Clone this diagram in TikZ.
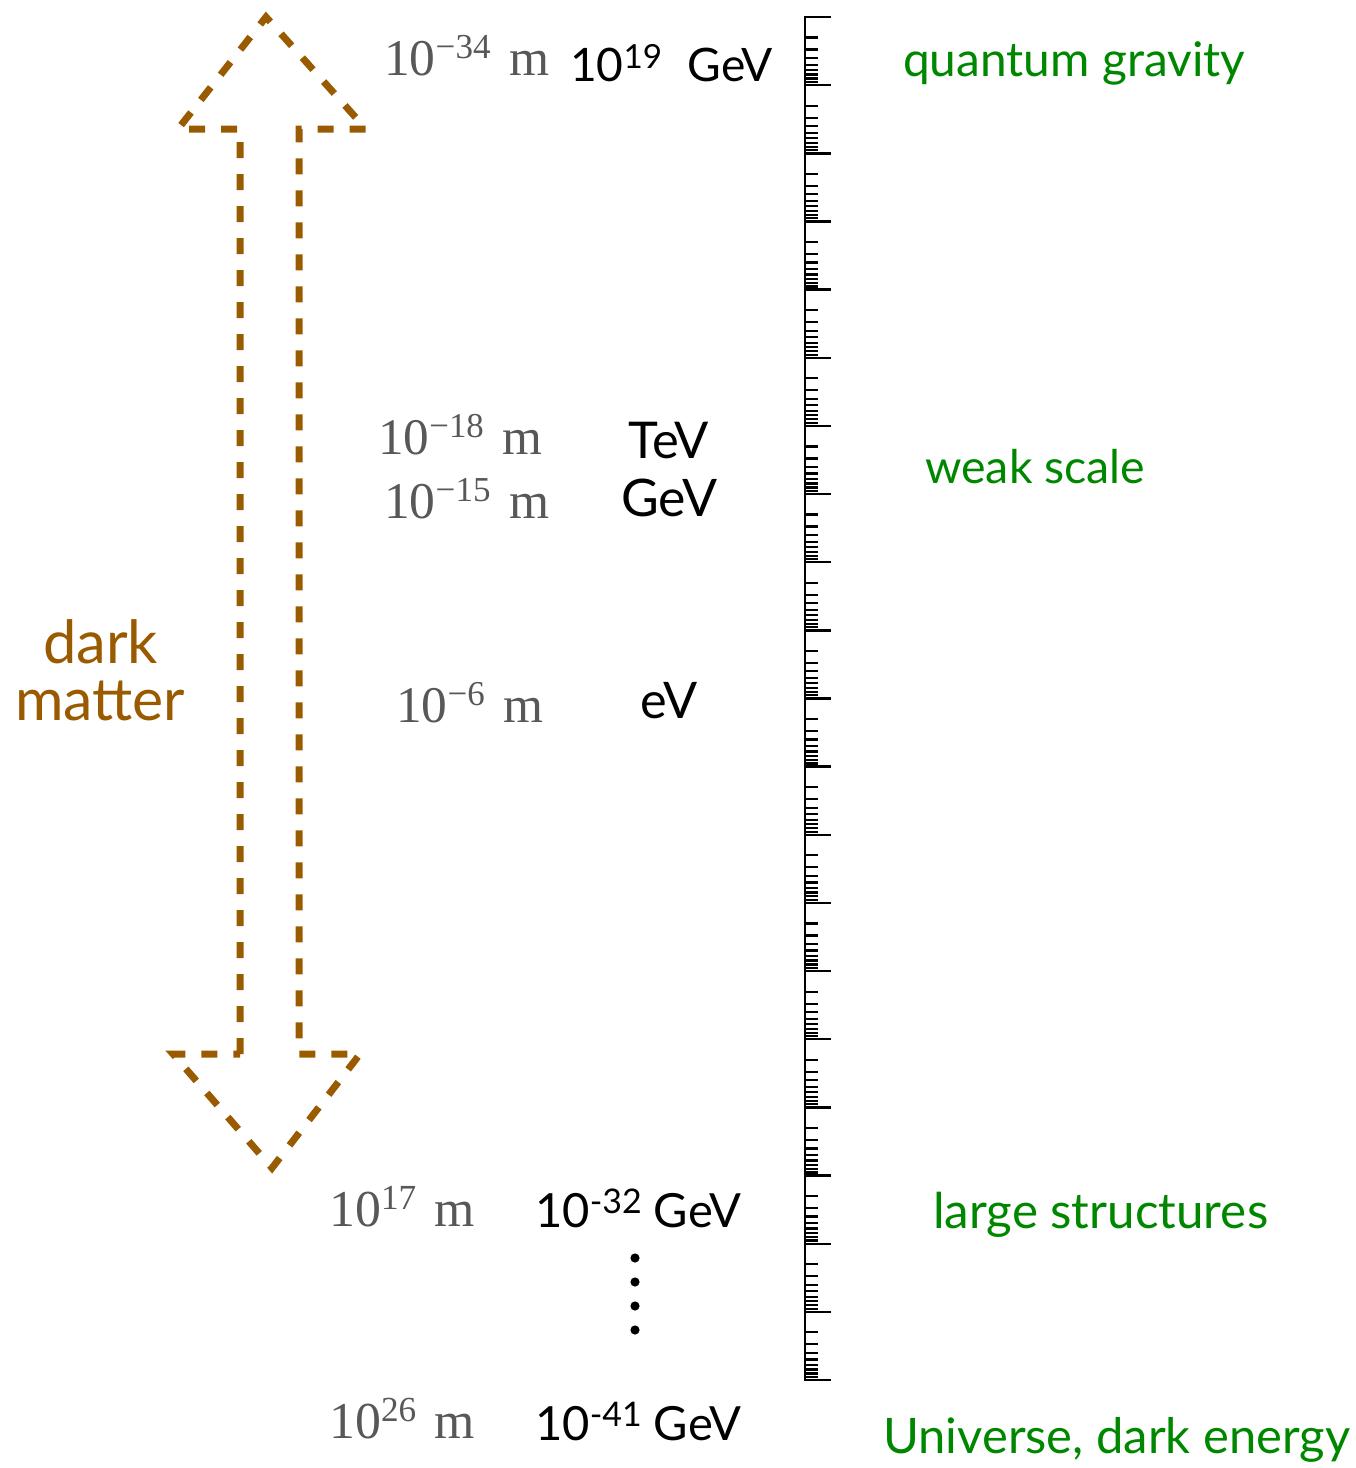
\documentclass[tikz,border=0pt]{standalone}
\usepackage{fontspec}
\setmainfont{Liberation Serif}
\setsansfont{Lato}
\usepackage{graphicx}

\definecolor{dmbrown}{RGB}{153,90,0}
\definecolor{scalegreen}{RGB}{0,135,0}
\definecolor{lengthgray}{RGB}{88,88,88}

% set a label at a fixed printed width (in pt)
\newcommand{\fitw}[2]{\resizebox{#1pt}{!}{#2}}
% length in metres, serif
\newcommand{\lenm}[1]{10\raisebox{0.32em}{\fontsize{34}{34}\selectfont #1}\hspace{0.36em}m}
% energy power of ten, sans
\newcommand{\engev}[1]{10\raisebox{0.28em}{\fontsize{36}{36}\selectfont #1}}

\tikzset{
  lbl/.style={inner sep=0pt, anchor=base west},
  lenlbl/.style={lbl, text=lengthgray, font=\rmfamily\fontsize{50}{60}\selectfont},
  enlbl/.style={lbl, text=black, font=\sffamily\fontsize{50}{60}\selectfont},
  physlbl/.style={lbl, text=scalegreen, font=\sffamily\fontsize{48}{58}\selectfont},
  dmlbl/.style={lbl, text=dmbrown, font=\sffamily\fontsize{48}{58}\selectfont},
  dmarrow/.style={draw=dmbrown, line width=7pt, dash pattern=on 16pt off 16pt, line join=miter},
  rulerline/.style={line width=2.4pt, black},
  majortick/.style={line width=2.4pt, black},
  minortick/.style={line width=2.2pt, black},
}

\begin{document}
\begin{tikzpicture}[x=1pt, y=-1pt]
\useasboundingbox (0,0) rectangle (1356,1468);

% double-headed outline arrow
\draw[dmarrow] (240,1054) -- (240,129) -- (178,129) -- (266,17) -- (366,129)
  -- (299,129) -- (299,1054) -- (360,1054) -- (272,1168) -- (173,1054) -- cycle;

% dark matter label
\node[dmlbl] (dark)   at (43,663) {\fitw{115}{dark}};
\node[dmlbl] (matter) at (15,720) {\fitw{170}{matter}};

% logarithmic ruler, twenty decades
\draw[rulerline] (805,17) -- (805,1380);
\foreach \i in {0,...,20}
  \draw[majortick] (804,{17+68.15*\i}) -- (831,{17+68.15*\i});
\foreach \i in {0,...,19}
  \foreach \k in {2,...,9}
    \draw[minortick] (804,{17+68.15*(\i+log10(\k))}) -- (818,{17+68.15*(\i+log10(\k))});

% length scales
\node[lenlbl] (l34) at (384,75)   {\fitw{165}{\lenm{−34}}};
\node[lenlbl] (l18) at (378,454)  {\fitw{164}{\lenm{−18}}};
\node[lenlbl] (l15) at (384,518)  {\fitw{165}{\lenm{−15}}};
\node[lenlbl] (l6)  at (396,722)  {\fitw{147}{\lenm{−6}}};
\node[lenlbl] (l17) at (329,1226) {\fitw{146}{\lenm{17}}};
\node[lenlbl] (l26) at (329,1438) {\fitw{146}{\lenm{26}}};

% energy scales
\node[enlbl] (e19)  at (570,81)   {\fitw{203}{\engev{19}\hspace{0.55em}GeV}};
\node[enlbl] (etev) at (628,458)  {\fitw{81}{TeV}};
\node[enlbl] (egev) at (621,516)  {\fitw{96}{GeV}};
\node[enlbl] (eev)  at (640,718)  {\fitw{57}{eV}};
\node[enlbl] (e32)  at (535,1227) {\fitw{206}{\engev{-32} GeV}};
\node[enlbl] (e41)  at (535,1440) {\fitw{206}{\engev{-41} GeV}};

% vertical ellipsis
\foreach \y in {1258,1282,1306,1330}
  \fill (635,\y) circle (4.6);

% physics regimes
\node[physlbl] (qg)  at (903,76)   {\fitw{342}{quantum gravity}};
\node[physlbl] (ws)  at (925,483)  {\fitw{220}{weak scale}};
\node[physlbl] (ls)  at (933,1228) {\fitw{335}{large structures}};
\node[physlbl] (uni) at (883,1453) {\fitw{467}{Universe, dark energy}};
\end{tikzpicture}
\end{document}
